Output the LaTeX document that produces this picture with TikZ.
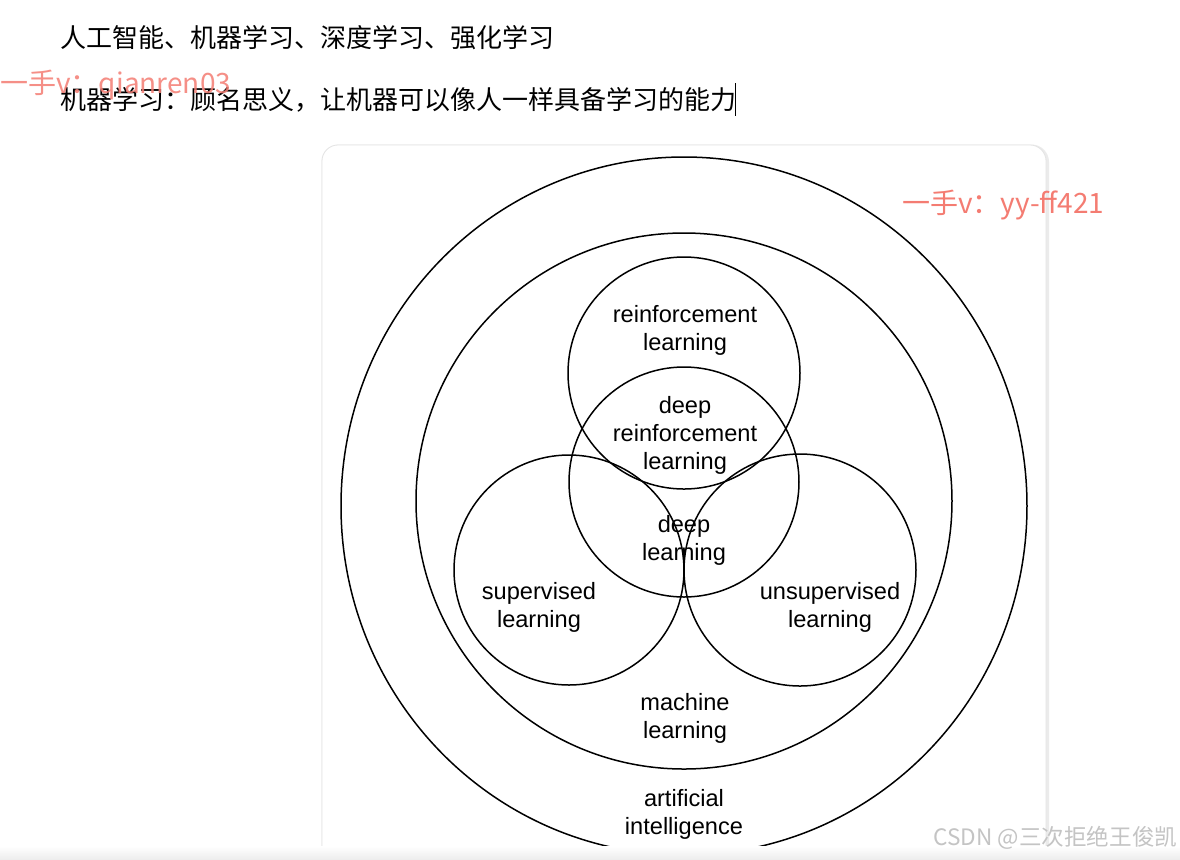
\documentclass[tikz,border=0pt]{standalone}
\usepackage{fontspec}
\setmainfont{Liberation Sans}
\newfontfamily\cjk{Noto Sans CJK SC}
\usepackage{tikz}
\usetikzlibrary{positioning}
\definecolor{wmark}{HTML}{F47C72}
\definecolor{csdngray}{HTML}{C4C4C4}
\definecolor{cardline}{HTML}{E4E4E4}
\tikzset{
  ring/.style={draw=black,line width=0.75pt},
  lbl/.style={align=center,font=\fontsize{11.8}{14}\selectfont,inner sep=0pt},
  note/.style={anchor=west,font=\cjk\fontsize{13}{15}\selectfont,inner sep=0pt},
  wm/.style={anchor=west,font=\cjk\fontsize{14}{16}\selectfont,text=wmark,inner sep=0pt}
}

\begin{document}
\begin{tikzpicture}[x=0.5pt,y=-0.5pt]
\useasboundingbox (0,0) rectangle (1180,859);
\fill[white] (0,0) rectangle (1180,859);
% card behind the figure
\draw[gray!16,line width=1.5,rounded corners=8] (323,146) rectangle (1047.5,900);
\draw[cardline,fill=white,rounded corners=8] (322,145) rectangle (1046,900);
% notes above the figure
\node[note] (topics) at (60,38) {人工智能、机器学习、深度学习、强化学习};
\node[note] (mldef) at (60,100) {机器学习：顾名思义，让机器可以像人一样具备学习的能力};
\draw[black,line width=0.5] (735,83) -- (735,116);
% nested circles
\draw[ring] (684,506) ellipse[x radius=343,y radius=349];
\draw[ring] (684,501) circle[radius=268];
\draw[ring] (684,373) circle[radius=116];
\draw[ring] (684,482) circle[radius=115];
\draw[ring] (569,570) circle[radius=115];
\draw[ring] (800,570) circle[radius=116];
% labels
\node[lbl] (rl) at (685,330) {reinforcement\\learning};
\node[lbl] (drl) at (685,435) {deep\\reinforcement\\learning};
\node[lbl] (dl) at (684,540) {deep\\learning};
\node[lbl] (sl) at (539,607) {supervised\\learning};
\node[lbl] (ul) at (830,607) {unsupervised\\learning};
\node[lbl] (ml) at (685,718) {machine\\learning};
\node[lbl] (ai) at (684,814) {artificial\\intelligence};
% watermarks
\node[wm,text opacity=0.85] (wmleft) at (0,85) {一手v：qianren03};
\node[wm] (wmright) at (902,205) {一手v：yy-ff421};
\shade[top color=white,bottom color=gray!14] (0,846) rectangle (1180,859);
\node[anchor=west,inner sep=0pt,font=\cjk\fontsize{11.3}{13}\selectfont,text=csdngray] (csdn) at (933,838) {CSDN @三次拒绝王俊凯};
\end{tikzpicture}
\end{document}
